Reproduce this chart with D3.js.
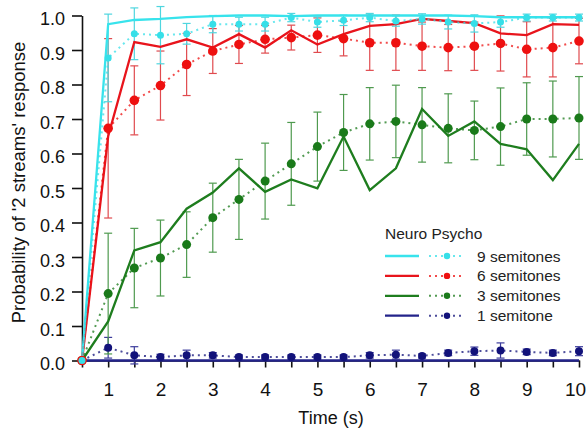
<!DOCTYPE html>
<html>
<head>
    <script src="https://cdnjs.cloudflare.com/ajax/libs/d3/7.8.5/d3.min.js"></script>
    <style>
        body { margin: 0; background: white; }
        svg { display: block; font-family: "Liberation Sans", Arial, sans-serif; }
    </style>
</head>
<body>
    <div id="chart"></div>
    <script>
        // Time bins (s)
        const times = [0.5, 1, 1.5, 2, 2.5, 3, 3.5, 4, 4.5, 5, 5.5, 6, 6.5, 7, 7.5, 8, 8.5, 9, 9.5, 10];

        // 9 semitones
        const neuro9 = [0, 0.975, 0.987, 0.99, 0.995, 0.998, 1.0, 1.0, 0.998, 1.0, 1.0, 1.0, 1.0, 1.0, 1.0, 0.998, 0.995, 0.995, 0.995, 0.995];
        const psycho9 = [0, 0.877, 0.947, 0.943, 0.947, 0.975, 0.975, 0.975, 0.994, 0.981, 0.986, 0.994, 0.984, 0.99, 0.981, 0.977, 0.981, 0.994, 0.994, 0.994];
        const err9 = [0, 0.127, 0.075, 0.083, 0.03, 0.025, 0.02, 0.02, 0.012, 0.015, 0.015, 0.012, 0.015, 0.015, 0.02, 0.025, 0.015, 0.01, 0.01, 0.01];

        // 6 semitones
        const neuro6 = [0, 0.65, 0.923, 0.909, 0.931, 0.907, 0.946, 0.907, 0.957, 0.916, 0.946, 0.97, 0.975, 0.99, 0.984, 0.978, 0.948, 0.943, 0.975, 0.973];
        const psycho6 = [0, 0.673, 0.754, 0.797, 0.858, 0.897, 0.916, 0.931, 0.936, 0.943, 0.933, 0.921, 0.921, 0.911, 0.907, 0.911, 0.919, 0.902, 0.907, 0.926];
        const err6 = [0, 0.26, 0.1, 0.1, 0.09, 0.065, 0.055, 0.04, 0.036, 0.05, 0.05, 0.08, 0.08, 0.07, 0.067, 0.07, 0.08, 0.08, 0.085, 0.066];

        // 3 semitones
        const neuro3 = [0, 0.113, 0.319, 0.343, 0.44, 0.487, 0.557, 0.489, 0.525, 0.499, 0.649, 0.494, 0.557, 0.729, 0.651, 0.693, 0.628, 0.612, 0.523, 0.628];
        const psycho3 = [0, 0.194, 0.268, 0.297, 0.336, 0.414, 0.467, 0.52, 0.57, 0.62, 0.661, 0.686, 0.693, 0.683, 0.673, 0.667, 0.678, 0.7, 0.7, 0.703];
        const err3 = [0, 0.175, 0.115, 0.11, 0.095, 0.1, 0.116, 0.11, 0.12, 0.1, 0.11, 0.105, 0.105, 0.108, 0.1, 0.085, 0.112, 0.105, 0.11, 0.12];

        // 1 semitone
        const neuro1 = [0, 0, 0, 0, 0, 0, 0, 0, 0, 0, 0, 0, 0, 0, 0, 0, 0, 0, 0, 0];
        const psycho1 = [0, 0.037, 0.015, 0.01, 0.015, 0.015, 0.01, 0.01, 0.01, 0.01, 0.01, 0.015, 0.017, 0.013, 0.022, 0.027, 0.029, 0.025, 0.022, 0.027];
        const err1 = [0, 0.03, 0.025, 0.008, 0.015, 0.008, 0.006, 0.006, 0.006, 0.006, 0.006, 0.008, 0.013, 0.006, 0.008, 0.012, 0.022, 0.008, 0.008, 0.013];

        const legendLabels = ["9 semitones", "6 semitones", "3 semitones", "1 semitone"];
        const yTicks = [0, 0.1, 0.2, 0.3, 0.4, 0.5, 0.6, 0.7, 0.8, 0.9, 1.0];
        const xTicks = [0.5, 1, 1.5, 2, 2.5, 3, 3.5, 4, 4.5, 5, 5.5, 6, 6.5, 7, 7.5, 8, 8.5, 9, 9.5, 10];

        // drawing order: bottom series first so cyan ends up on top
        const series = [
            { neuro: neuro1, psycho: psycho1, err: err1, line: "#23238a", dot: "#12127a", bar: "#3c3c9c", r: 4 },
            { neuro: neuro3, psycho: psycho3, err: err3, line: "#1e7d1e", dot: "#1a7a1a", bar: "#4f9a4f", r: 4.5 },
            { neuro: neuro6, psycho: psycho6, err: err6, line: "#e8141c", dot: "#ee1010", bar: "#e04a4e", r: 4.8 },
            { neuro: neuro9, psycho: psycho9, err: err9, line: "#38e3ec", dot: "#36dfe8", bar: "#4fd6df", r: 3.5 }
        ];

        const width = 586, height = 434;
        const svg = d3.select("#chart").append("svg")
            .attr("width", width)
            .attr("height", height);

        const x = d3.scaleLinear().domain([0.5, 10]).range([82, 579]);
        const y = d3.scaleLinear().domain([0, 1]).range([360.5, 15.5]);

        // Axes
        const yAxis = svg.append("g")
            .attr("transform", `translate(${x(0.5)},0)`)
            .call(d3.axisLeft(y).tickValues(yTicks).tickFormat(d3.format(".1f"))
                .tickSize(10).tickSizeOuter(0).tickPadding(7));
        yAxis.selectAll("text").attr("font-size", 18).attr("fill", "#111").attr("dy", "0.5em");
        yAxis.selectAll("line, path").attr("stroke", "#111").attr("stroke-width", 1.6);

        const xAxis = svg.append("g")
            .attr("transform", `translate(0,${y(0)})`)
            .call(d3.axisBottom(x).tickValues(xTicks)
                .tickFormat(d => Number.isInteger(d) ? d : "")
                .tickSize(7).tickSizeOuter(0).tickPadding(15));
        xAxis.selectAll("text").attr("font-size", 19).attr("fill", "#111");
        // keep the last label inside the window
        xAxis.selectAll("text").filter(d => d === 10).attr("dx", -4);
        xAxis.selectAll("line, path").attr("stroke", "#111").attr("stroke-width", 1.6);

        svg.append("text")
            .attr("transform", "translate(25,182.5) rotate(-90)")
            .attr("text-anchor", "middle")
            .attr("font-size", 18.5)
            .attr("fill", "#111")
            .text("Probability of '2 streams' response");

        svg.append("text")
            .attr("x", 331).attr("y", 424)
            .attr("text-anchor", "middle")
            .attr("font-size", 18)
            .attr("fill", "#111")
            .text("Time (s)");

        const plot = svg.append("g");
        const line = d3.line().x((d, i) => x(times[i])).y(d => y(d));

        // error bars
        series.forEach(s => {
            const g = plot.append("g").attr("stroke", s.bar).attr("stroke-width", 1.2);
            s.psycho.forEach((v, i) => {
                if (!s.err[i]) return;
                const x0 = x(times[i]);
                const lo = y(v - s.err[i]), hi = y(v + s.err[i]);
                g.append("line").attr("x1", x0).attr("x2", x0).attr("y1", lo).attr("y2", hi);
                g.append("line").attr("x1", x0 - 4).attr("x2", x0 + 4).attr("y1", lo).attr("y2", lo);
                g.append("line").attr("x1", x0 - 4).attr("x2", x0 + 4).attr("y1", hi).attr("y2", hi);
            });
        });

        // neuro (solid) lines
        series.forEach(s => {
            plot.append("path")
                .datum(s.neuro)
                .attr("fill", "none")
                .attr("stroke", s.line)
                .attr("stroke-width", 2.3)
                .attr("d", line);
        });

        // psycho (dotted) lines and dots
        series.forEach(s => {
            plot.append("path")
                .datum(s.psycho)
                .attr("fill", "none")
                .attr("stroke", s.dot)
                .attr("stroke-width", 2)
                .attr("stroke-dasharray", "2,4")
                .attr("opacity", 0.75)
                .attr("d", line);
            plot.append("g").selectAll("circle")
                .data(s.psycho)
                .join("circle")
                .attr("cx", (d, i) => x(times[i]))
                .attr("cy", d => y(d))
                .attr("r", s.r)
                .attr("fill", s.dot);
        });

        // Legend
        const legend = svg.append("g");
        legend.append("text")
            .attr("x", 385).attr("y", 239)
            .attr("font-size", 15.5)
            .attr("fill", "#222")
            .text("Neuro Psycho");

        const legendOrder = [3, 2, 1, 0];
        legendOrder.forEach((si, k) => {
            const s = series[si];
            const ly = 256 + k * 19.9;
            legend.append("line")
                .attr("x1", 385).attr("x2", 419).attr("y1", ly).attr("y2", ly)
                .attr("stroke", s.line).attr("stroke-width", 2.3);
            legend.append("line")
                .attr("x1", 429).attr("x2", 463).attr("y1", ly).attr("y2", ly)
                .attr("stroke", s.dot).attr("stroke-width", 2)
                .attr("stroke-dasharray", "2,4").attr("opacity", 0.75);
            legend.append("circle")
                .attr("cx", 447).attr("cy", ly).attr("r", 3.2)
                .attr("fill", s.dot);
            legend.append("text")
                .attr("x", 477).attr("y", ly + 5.5)
                .attr("font-size", 15.5)
                .attr("fill", "#222")
                .text(legendLabels[k]);
        });
    </script>
</body>
</html>
